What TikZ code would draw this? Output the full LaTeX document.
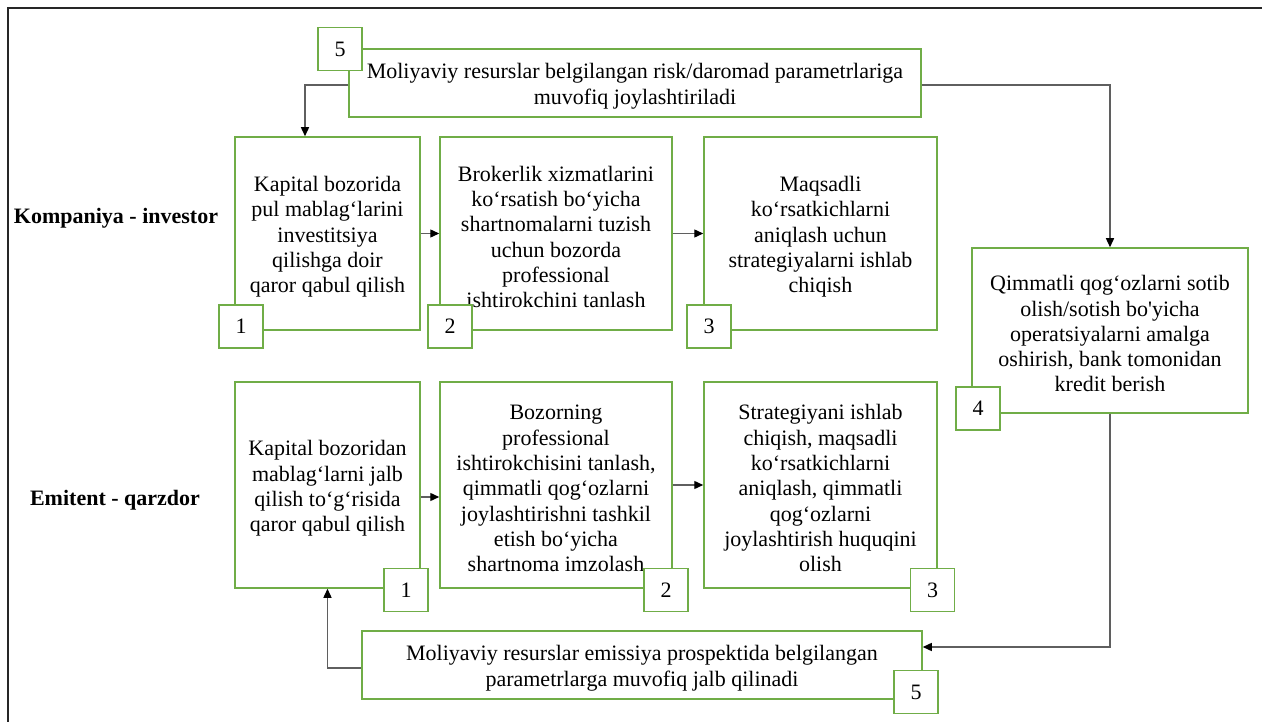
\documentclass[tikz,border=0pt]{standalone}
\usepackage{fontspec}
\setmainfont{Liberation Serif}[Ligatures=TeXOff]
\usetikzlibrary{arrows.meta}
\definecolor{boxgreen}{RGB}{112,173,71}
\definecolor{conngray}{RGB}{95,95,95}
\newcommand{\mytopgap}{\rule{0pt}{22pt}}
\begin{document}
\begin{tikzpicture}[x=1pt,y=-1pt,
  every node/.style={font=\fontsize{22}{25.3}\selectfont},
  bigbox/.style={draw=boxgreen, line width=1.5pt, fill=white, align=center, inner sep=0pt},
  numbox/.style={draw=boxgreen, line width=1.5pt, fill=white, minimum width=44pt, minimum height=43pt, inner sep=0pt},
  conn/.style={draw=conngray, line width=1.4pt, -{Triangle[length=9pt,width=8pt,black]}},
  rowlabel/.style={font=\fontsize{22}{26}\selectfont\bfseries}]
\useasboundingbox (0,0) rectangle (1262,722);
% outer frame
\draw[black!85, line width=1.6pt] (8,722) -- (8,8) -- (1262,8);

% top box 5
\node[bigbox, minimum width=572pt, minimum height=68pt] (top5) at (635,83)
  {\mytopgap Moliyaviy resurslar belgilangan risk/daromad parametrlariga\\muvofiq joylashtiriladi};

% row 1
\node[bigbox, minimum width=185pt, minimum height=193pt] (b1) at (327.5,233.5)
  {\mytopgap Kapital bozorida\\pul mablag‘larini\\investitsiya\\qilishga doir\\qaror qabul qilish};
\node[bigbox, minimum width=232pt, minimum height=193pt] (b2) at (556,233.5)
  {\mytopgap Brokerlik xizmatlarini\\ko‘rsatish bo‘yicha\\shartnomalarni tuzish\\uchun bozorda\\professional\\ishtirokchini tanlash};
\node[bigbox, minimum width=233pt, minimum height=193pt] (b3) at (820.5,233.5)
  {\mytopgap Maqsadli\\ko‘rsatkichlarni\\aniqlash uchun\\strategiyalarni ishlab\\chiqish};

% box 4
\node[bigbox, minimum width=276pt, minimum height=165pt] (b4) at (1110,330.5)
  {\mytopgap Qimmatli qog‘ozlarni sotib\\olish/sotish bo'yicha\\operatsiyalarni amalga\\oshirish, bank tomonidan\\kredit berish};

% row 2
\node[bigbox, minimum width=185pt, minimum height=206pt] (c1) at (327.5,485)
  {\mytopgap Kapital bozoridan\\mablag‘larni jalb\\qilish to‘g‘risida\\qaror qabul qilish};
\node[bigbox, minimum width=232pt, minimum height=206pt] (c2) at (556,485)
  {\mytopgap Bozorning\\professional\\ishtirokchisini tanlash,\\qimmatli qog‘ozlarni\\joylashtirishni tashkil\\etish bo‘yicha\\shartnoma imzolash};
\node[bigbox, minimum width=233pt, minimum height=206pt] (c3) at (820.5,485)
  {\mytopgap Strategiyani ishlab\\chiqish, maqsadli\\ko‘rsatkichlarni\\aniqlash, qimmatli\\qog‘ozlarni\\joylashtirish huquqini\\olish};

% bottom box 5
\node[bigbox, minimum width=560pt, minimum height=68pt] (bot5) at (642,665)
  {\mytopgap Moliyaviy resurslar emissiya prospektida belgilangan\\parametrlarga muvofiq jalb qilinadi};

% row labels
\node[rowlabel] (lab1) at (116,218) {Kompaniya - investor};
\node[rowlabel] (lab2) at (115,500) {Emitent - qarzdor};

% number boxes
\node[numbox] (n5t) at (340,49) {5};
\node[numbox] (n1) at (241,326.5) {1};
\node[numbox] (n2) at (450,326.5) {2};
\node[numbox] (n3) at (709,326.5) {3};
\node[numbox] (n4) at (978,408.5) {4};
\node[numbox] (m1) at (406,590) {1};
\node[numbox] (m2) at (666,590) {2};
\node[numbox] (m3) at (932.5,590) {3};
\node[numbox] (n5b) at (916,692) {5};

% connectors
\draw[conn] ([yshift=-2pt]top5.west) -| ([xshift=-22.5pt]b1.north);
\draw[conn] ([yshift=-2pt]top5.east) -| (b4.north);
\draw[conn] (b1.east) -- (b2.west);
\draw[conn] (b2.east) -- (b3.west);
\draw[conn] ([yshift=-12pt]c1.east) -- ([yshift=-12pt]c2.west);
\draw[conn] (c2.east) -- (c3.west);
\draw[conn] (b4.south) |- ([yshift=18pt]bot5.east);
\draw[conn] ([yshift=-3pt]bot5.west) -| (c1.south);
\end{tikzpicture}
\end{document}
